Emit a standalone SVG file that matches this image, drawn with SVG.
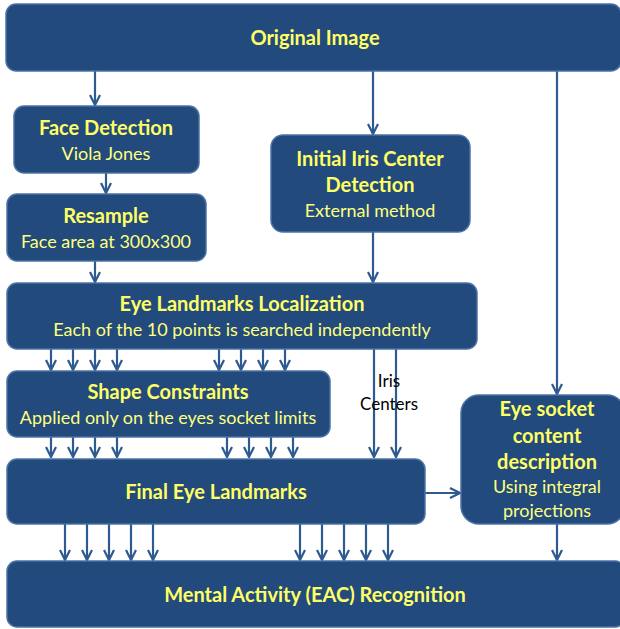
<svg xmlns="http://www.w3.org/2000/svg" width="620" height="629" viewBox="0 0 620 629">
<defs>
<marker id="ah" viewBox="0 0 12 12" refX="11" refY="6" markerWidth="12" markerHeight="12" markerUnits="userSpaceOnUse" orient="auto">
<path d="M1,1 L11,6 L1,11" fill="none" stroke="#2c5a91" stroke-width="2.2"/>
</marker>
</defs>
<style>
.box{fill:#224a7c;stroke:#4a72a6;stroke-width:1.5}
.t{font-family:Lato,"Liberation Sans",sans-serif;font-weight:bold;font-size:20px;fill:#ffff66;text-anchor:middle}
.s{font-family:Lato,"Liberation Sans",sans-serif;font-size:18px;fill:#ffff80;text-anchor:middle}
.k{font-family:Lato,"Liberation Sans",sans-serif;font-size:17px;fill:#000;text-anchor:middle}
.c line,.c path{stroke:#2c5a91;stroke-width:2.2;fill:none}
.a{marker-end:url(#ah)}
</style>
<rect width="620" height="629" fill="#ffffff"/>
<g class="c" id="connectors">
<line class="a" x1="95" y1="71" x2="95" y2="105"/>
<line class="a" x1="373" y1="71" x2="373" y2="134"/>
<line class="a" x1="557" y1="71" x2="557" y2="394"/>
<line class="a" x1="106" y1="173" x2="106" y2="193"/>
<line class="a" x1="95" y1="261" x2="95" y2="282"/>
<line class="a" x1="373" y1="232" x2="373" y2="282"/>
<line class="a" x1="51" y1="349" x2="51" y2="370"/>
<line class="a" x1="73" y1="349" x2="73" y2="370"/>
<line class="a" x1="95" y1="349" x2="95" y2="370"/>
<line class="a" x1="117" y1="349" x2="117" y2="370"/>
<line class="a" x1="219" y1="349" x2="219" y2="370"/>
<line class="a" x1="241" y1="349" x2="241" y2="370"/>
<line class="a" x1="263" y1="349" x2="263" y2="370"/>
<line class="a" x1="285" y1="349" x2="285" y2="370"/>
<line class="a" x1="374" y1="349" x2="374" y2="457"/>
<line class="a" x1="396" y1="349" x2="396" y2="457"/>
<line class="a" x1="51" y1="437" x2="51" y2="457"/>
<line class="a" x1="73" y1="437" x2="73" y2="457"/>
<line class="a" x1="95" y1="437" x2="95" y2="457"/>
<line class="a" x1="117" y1="437" x2="117" y2="457"/>
<line class="a" x1="227" y1="437" x2="227" y2="457"/>
<line class="a" x1="249" y1="437" x2="249" y2="457"/>
<line class="a" x1="271" y1="437" x2="271" y2="457"/>
<line class="a" x1="293" y1="437" x2="293" y2="457"/>
<line class="a" x1="425" y1="493" x2="460" y2="493"/>
<line class="a" x1="65" y1="524" x2="65" y2="560"/>
<line class="a" x1="87" y1="524" x2="87" y2="560"/>
<line class="a" x1="109" y1="524" x2="109" y2="560"/>
<line class="a" x1="131" y1="524" x2="131" y2="560"/>
<line class="a" x1="153" y1="524" x2="153" y2="560"/>
<line class="a" x1="300" y1="524" x2="300" y2="560"/>
<line class="a" x1="322" y1="524" x2="322" y2="560"/>
<line class="a" x1="344" y1="524" x2="344" y2="560"/>
<line class="a" x1="366" y1="524" x2="366" y2="560"/>
<line class="a" x1="388" y1="524" x2="388" y2="560"/>
<line class="a" x1="557" y1="524" x2="557" y2="560"/>
</g>
<g id="original-image">
<rect class="box" x="6" y="4" width="615" height="67" rx="10"/>
<text class="t" x="315" y="45">Original Image</text>
</g>
<g id="face-detection">
<rect class="box" x="14" y="106" width="185" height="67" rx="10"/>
<text class="t" x="106" y="135">Face Detection</text>
<text class="s" x="106" y="160">Viola Jones</text>
</g>
<g id="resample">
<rect class="box" x="7" y="194" width="199" height="67" rx="10"/>
<text class="t" x="106" y="223">Resample</text>
<text class="s" x="106" y="248">Face area at 300x300</text>
</g>
<g id="initial-iris">
<rect class="box" x="271" y="135" width="199" height="97" rx="12"/>
<text class="t" x="370" y="166">Initial Iris Center</text>
<text class="t" x="370" y="192">Detection</text>
<text class="s" x="370" y="217">External method</text>
</g>
<g id="eye-landmarks-localization">
<rect class="box" x="7" y="283" width="470" height="66" rx="10"/>
<text class="t" x="242" y="311">Eye Landmarks Localization</text>
<text class="s" x="242" y="336">Each of the 10 points is searched independently</text>
</g>
<g id="shape-constraints">
<rect class="box" x="7" y="371" width="323" height="66" rx="10"/>
<text class="t" x="168" y="399">Shape Constraints</text>
<text class="s" x="168" y="424">Applied only on the eyes socket limits</text>
</g>
<g id="iris-centers-label">
<text class="k" x="389" y="387">Iris</text>
<text class="k" x="389" y="410">Centers</text>
</g>
<g id="final-eye-landmarks">
<rect class="box" x="7" y="459" width="418" height="65" rx="10"/>
<text class="t" x="216" y="499">Final Eye Landmarks</text>
</g>
<g id="eye-socket">
<rect class="box" x="461" y="395" width="164" height="129" rx="18"/>
<text class="t" x="547" y="416">Eye socket</text>
<text class="t" x="547" y="443">content</text>
<text class="t" x="547" y="469">description</text>
<text class="s" x="547" y="493">Using integral</text>
<text class="s" x="547" y="517">projections</text>
</g>
<g id="mental-activity">
<rect class="box" x="7" y="561" width="618" height="66" rx="10"/>
<text class="t" x="315" y="602">Mental Activity (EAC) Recognition</text>
</g>
</svg>
